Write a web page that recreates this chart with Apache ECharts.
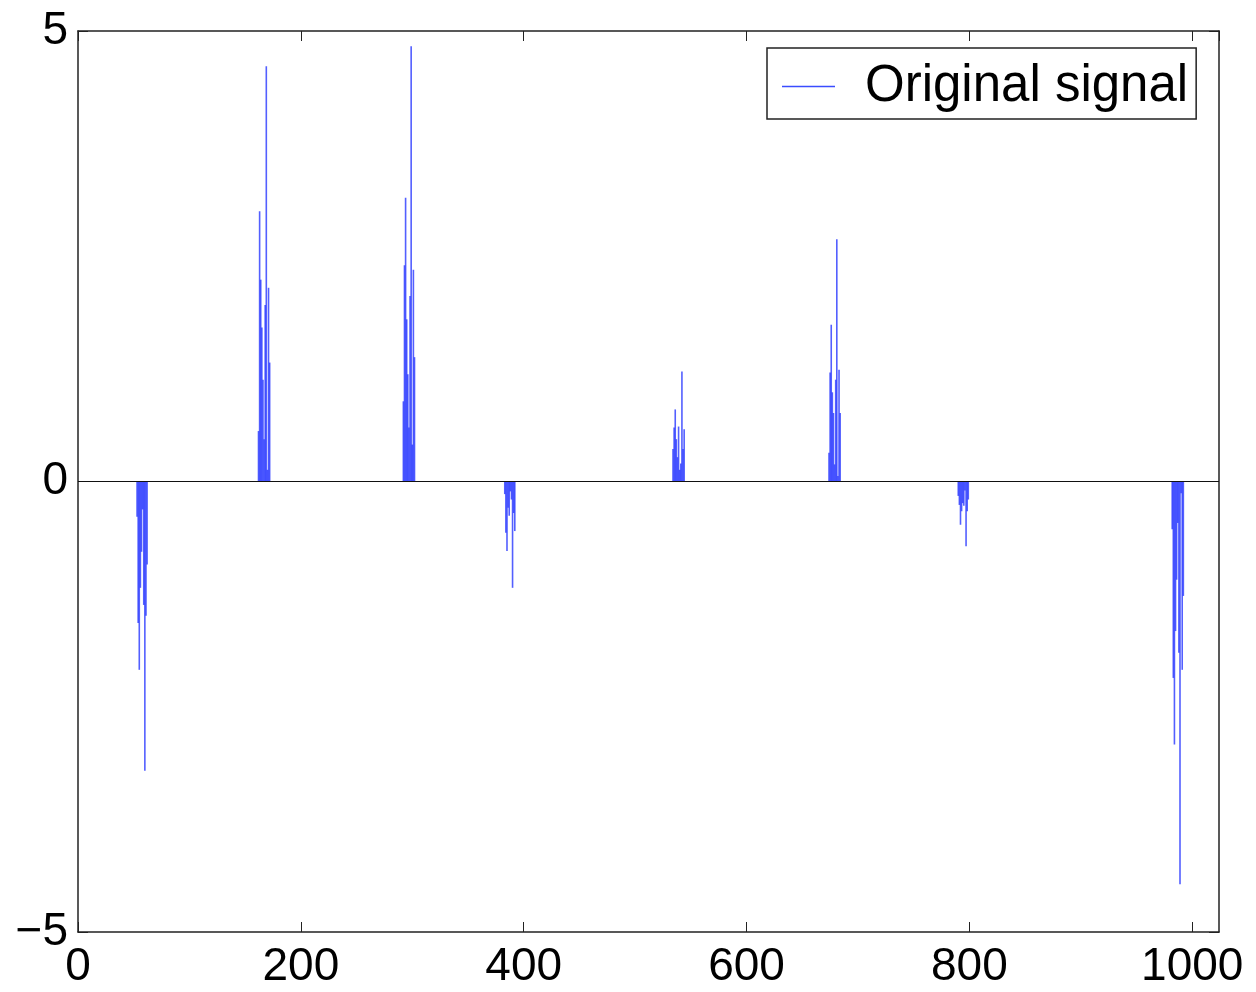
<!DOCTYPE html>
<html lang="en">
  <head>
    <meta charset="UTF-8" />
    <title>Original signal</title>
    <script src="https://cdn.jsdelivr.net/npm/echarts@6/dist/echarts.min.js"></script>
    <style>
      html, body { margin: 0; padding: 0; background: #fff; }
      #chart { width: 1256px; height: 992px; }
    </style>
  </head>
  <body>
    <div id="chart"></div>
    <script>
      // signal length and axis ticks
      const signalLength = 1024;
      const xTicks = [0, 200, 400, 600, 800, 1000];
      const yTicks = [-5, 0, 5];

      // first sample index of each burst, and the burst samples
      const burstStart = [53, 162, 292, 383, 534, 674, 790, 982];
      const burstValues = [
        [-0.39, -1.57, -2.09, -1.18, -0.78, -0.31, -1.37, -3.21, -1.49, -0.92],
        [0.56, 3.0, 2.24, 1.71, 1.13, 0.47, 1.96, 4.61, 0.13, 2.15, 1.32],
        [0.89, 2.4, 3.15, 1.8, 1.19, 0.6, 2.06, 4.83, 0.41, 2.35, 1.38],
        [-0.14, -0.57, -0.77, -0.29, -0.38, -0.11, -0.2, -1.18, -0.35, -0.55],
        [0.36, 0.6, 0.8, 0.47, 0.27, 0.61, 0.13, 0.2, 1.22, 0.36, 0.58],
        [0.32, 1.21, 1.74, 0.99, 0.76, 0.19, 1.13, 2.69, 0.06, 1.24, 0.76],
        [-0.16, -0.26, -0.48, -0.33, -0.24, -0.27, -0.1, -0.72, -0.33, -0.2],
        [-0.53, -2.18, -2.92, -1.66, -1.09, -0.46, -1.9, -4.47, -0.13, -2.09, -1.27]
      ];

      // nonzero samples as [index, value]; everything else is zero
      const samples = [];
      burstStart.forEach((start, i) => {
        burstValues[i].forEach((v, k) => samples.push([start + k, v]));
      });

      const font = "'Liberation Sans', Arial, sans-serif";
      const minus = v => String(v).replace("-", "\u2212");
      const blue = "rgba(35, 50, 255, 0.78)";

      const axisLine = { onZero: false, lineStyle: { color: "#222", width: 1.5 } };
      const axisTick = { inside: true, length: 10, lineStyle: { color: "#222" } };

      const chart = echarts.init(document.getElementById("chart"));
      chart.setOption({
        animation: false,
        backgroundColor: "#fff",
        grid: { left: 78, right: 37, top: 31, bottom: 60 },
        legend: {
          show: true,
          left: 767,
          top: 48,
          backgroundColor: "#fff",
          borderColor: "#222",
          borderWidth: 1.5,
          padding: [13, 8, 7, 15],
          itemWidth: 53,
          itemHeight: 1.5,
          icon: "rect",
          itemStyle: { color: "#3a4cff" },
          textStyle: {
            fontFamily: font,
            fontSize: 51,
            color: "#000",
            padding: [0, 0, 0, 25]
          },
          data: ["Original signal"]
        },
        xAxis: [
          {
            type: "value",
            min: 0,
            max: signalLength,
            interval: 200,
            splitLine: { show: false },
            axisLine: axisLine,
            axisTick: axisTick,
            axisLabel: {
              showMaxLabel: false,
              fontFamily: font,
              fontSize: 46,
              color: "#000",
              margin: 12,
              formatter: v => (xTicks.includes(v) ? String(v) : "")
            }
          },
          {
            type: "value",
            position: "top",
            min: 0,
            max: signalLength,
            interval: 200,
            splitLine: { show: false },
            axisLine: axisLine,
            axisTick: axisTick,
            axisLabel: { show: false }
          }
        ],
        yAxis: [
          {
            type: "value",
            min: -5,
            max: 5,
            interval: 5,
            splitLine: { show: false },
            axisLine: axisLine,
            axisTick: axisTick,
            axisLabel: {
              fontFamily: font,
              fontSize: 46,
              color: "#000",
              margin: 10,
              formatter: v => (yTicks.includes(v) ? minus(v) : "")
            }
          },
          {
            type: "value",
            position: "right",
            min: -5,
            max: 5,
            interval: 5,
            splitLine: { show: false },
            axisLine: axisLine,
            axisTick: axisTick,
            axisLabel: { show: false }
          }
        ],
        series: [
          {
            name: "Original signal",
            type: "bar",
            data: samples,
            barWidth: 1.6,
            barGap: "-100%",
            large: false,
            itemStyle: { color: blue },
            markLine: {
              silent: true,
              symbol: "none",
              label: { show: false },
              lineStyle: { color: "#111", width: 1.2, type: "solid" },
              data: [{ yAxis: 0 }]
            }
          }
        ]
      });
    </script>
  </body>
</html>
